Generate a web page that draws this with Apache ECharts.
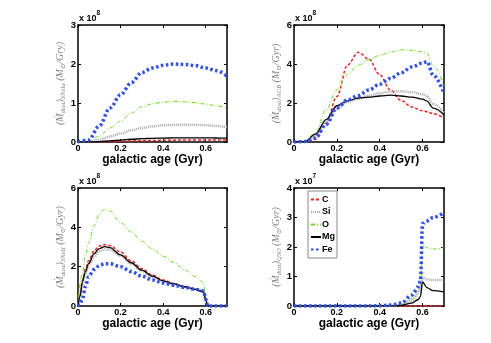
<!DOCTYPE html>
<html>
<head>
<meta charset="utf-8">
<script src="https://cdn.jsdelivr.net/npm/echarts@6/dist/echarts.min.js"></script>
<style>
  html, body { margin: 0; padding: 0; background: #fff; }
  #chart { width: 491px; height: 343px; }
</style>
</head>
<body>
<div id="chart"></div>
<script>
// element names (legend)
const elements = ['C', 'Si', 'O', 'Mg', 'Fe'];

// panel 1: SNeIa (x 1e8)
const xs1 = [0, 0.05, 0.1, 0.15, 0.2, 0.25, 0.3, 0.35, 0.4, 0.45, 0.5, 0.55, 0.6, 0.65, 0.7];
const c1  = [0, 0, 0.005, 0.012, 0.02, 0.028, 0.035, 0.04, 0.045, 0.048, 0.05, 0.05, 0.05, 0.05, 0.05];
const si1 = [0, 0, 0.06, 0.14, 0.22, 0.3, 0.36, 0.4, 0.43, 0.44, 0.44, 0.44, 0.43, 0.41, 0.38];
const o1  = [0, 0.01, 0.15, 0.36, 0.53, 0.74, 0.9, 0.98, 1.02, 1.04, 1.03, 1.01, 0.97, 0.93, 0.87];
const mg1 = [0, 0, 0.01, 0.03, 0.05, 0.07, 0.085, 0.095, 0.1, 0.105, 0.105, 0.105, 0.105, 0.102, 0.1];
const fe1 = [0, 0.05, 0.41, 0.87, 1.21, 1.52, 1.78, 1.9, 1.97, 2.0, 1.99, 1.96, 1.9, 1.83, 1.69];

// panel 2: AGB (x 1e8)
const xs2 = [0, 0.05, 0.1, 0.15, 0.2, 0.25, 0.3, 0.35, 0.4, 0.45, 0.5, 0.55, 0.6, 0.62, 0.65, 0.7];
const c2  = [0, 0, 0.14, 0.98, 2.33, 3.95, 4.6, 4.25, 3.45, 2.67, 2.13, 1.79, 1.6, 1.55, 1.45, 1.23];
const si2 = [0, 0.02, 0.3, 1.0, 1.75, 2.05, 2.22, 2.38, 2.5, 2.58, 2.6, 2.55, 2.45, 2.35, 1.95, 1.5];
const o2  = [0, 0.02, 0.47, 1.65, 2.67, 3.48, 3.94, 4.22, 4.44, 4.61, 4.73, 4.7, 4.62, 4.55, 3.9, 2.87];
const mg2 = [0, 0.02, 0.4, 1.15, 1.86, 2.11, 2.25, 2.3, 2.36, 2.4, 2.36, 2.3, 2.2, 2.1, 1.74, 1.4];
const fe2 = [0, 0.02, 0.2, 0.9, 1.74, 2.16, 2.38, 2.67, 2.97, 3.26, 3.55, 3.85, 4.05, 4.12, 3.43, 2.5];

// panel 3: SNeII (x 1e8)
const xs3 = [0, 0.01, 0.02, 0.035, 0.05, 0.075, 0.1, 0.125, 0.15, 0.2, 0.25, 0.3, 0.35, 0.4, 0.45, 0.5, 0.55, 0.59, 0.6, 0.61, 0.65, 0.7];
const c3  = [0, 0.6, 1.3, 1.9, 2.3, 2.8, 3.05, 3.12, 3.07, 2.75, 2.3, 1.9, 1.57, 1.32, 1.15, 1.0, 0.87, 0.75, 0.3, 0, 0, 0];
const si3 = [0, 0.45, 1.1, 1.65, 2.05, 2.5, 2.78, 2.88, 2.85, 2.55, 2.15, 1.78, 1.48, 1.25, 1.1, 0.97, 0.85, 0.73, 0.3, 0, 0, 0];
const o3  = [0, 1.16, 1.67, 2.6, 3.2, 4.07, 4.67, 4.92, 4.84, 4.24, 3.76, 3.3, 2.9, 2.53, 2.22, 1.85, 1.5, 1.18, 0.4, 0, 0, 0];
const mg3 = [0, 0.5, 1.2, 1.75, 2.15, 2.65, 2.92, 3.02, 2.97, 2.6, 2.2, 1.82, 1.52, 1.28, 1.12, 0.98, 0.85, 0.72, 0.3, 0, 0, 0];
const fe3 = [0, 0.05, 0.3, 1.0, 1.5, 1.85, 2.05, 2.15, 2.15, 2.0, 1.75, 1.52, 1.32, 1.17, 1.05, 0.95, 0.85, 0.76, 0.35, 0, 0, 0];

// panel 4: QSO (x 1e7)
const xs4 = [0, 0.1, 0.2, 0.3, 0.4, 0.45, 0.5, 0.55, 0.58, 0.59, 0.6, 0.62, 0.65, 0.7];
const c4  = [0, 0, 0, 0, 0, 0, 0, 0, 0, 0, 0, 0, 0, 0];
const si4 = [0, 0, 0, 0, 0, 0.01, 0.04, 0.18, 0.42, 0.6, 0.95, 0.9, 0.88, 0.88];
const o4  = [0, 0, 0, 0, 0, 0.01, 0.05, 0.25, 0.5, 0.72, 2.1, 1.98, 1.93, 1.98];
const mg4 = [0, 0, 0, 0, 0, 0.005, 0.02, 0.1, 0.22, 0.32, 0.82, 0.62, 0.52, 0.48];
const fe4 = [0, 0, 0, 0, 0.005, 0.03, 0.1, 0.37, 0.65, 0.85, 2.8, 2.88, 3.0, 3.17];

const xTicks = ['0', '0.2', '0.4', '0.6'];

const panels = [
  { xs: xs1, ys: [c1, si1, o1, mg1, fe1], ymax: 3, yint: 1, exp: '8', src: 'SNeIa', unit: 'Gry',
    grid: { left: 78, top: 25, width: 149, height: 117 } },
  { xs: xs2, ys: [c2, si2, o2, mg2, fe2], ymax: 6, yint: 2, exp: '8', src: 'AGB', unit: 'Gyr',
    grid: { left: 294, top: 25, width: 150, height: 117 } },
  { xs: xs3, ys: [c3, si3, o3, mg3, fe3], ymax: 6, yint: 2, exp: '8', src: 'SNeII', unit: 'Gyr',
    grid: { left: 78, top: 188, width: 149, height: 118 } },
  { xs: xs4, ys: [c4, si4, o4, mg4, fe4], ymax: 4, yint: 1, exp: '7', src: 'QSO', unit: 'Gyr',
    grid: { left: 294, top: 188, width: 150, height: 118 } }
];

const lineStyles = {
  C:  { color: '#ff1a1a', width: 1.5, type: [3, 2] },
  Si: { color: '#a8a8a8', width: 2.5, type: [1, 1] },
  O:  { color: '#5ee600', width: 1, type: [4, 2, 1, 2] },
  Mg: { color: '#000000', width: 1.3, type: 'solid' },
  Fe: { color: '#2b4dff', width: 3.5, type: [2.5, 2.5] }
};

const FONT = 'Liberation Sans, Arial, Helvetica, sans-serif';
const frame = { show: true, onZero: false, lineStyle: { color: '#000', width: 1.5 } };
const tick = { show: true, inside: true, length: 3, lineStyle: { color: '#000', width: 1 } };

const yName = (src, unit) =>
  '{m|(Ṁ}{s|dust}{m|)}{s|' + src + '}{m| (M}{s|⊙}{m|/' + unit + ')}';

const xLabel = v => {
  const k = v / 0.2;
  return Math.abs(k - Math.round(k)) < 1e-6 ? (xTicks[Math.round(k)] || '') : '';
};

const grids = [], xAxes = [], yAxes = [], series = [], graphics = [];

panels.forEach((p, i) => {
  grids.push(p.grid);
  const xBase = {
    type: 'value', gridIndex: i, min: 0, max: 0.7, interval: 0.2,
    axisLine: frame, axisTick: tick, splitLine: { show: false }
  };
  xAxes.push(Object.assign({}, xBase, {
    position: 'bottom',
    axisLabel: {
      show: true, margin: 2, color: '#000', fontFamily: FONT, fontWeight: 'bold', fontSize: 9,
      showMaxLabel: false, formatter: xLabel
    },
    name: 'galactic age (Gyr)', nameLocation: 'middle', nameGap: 12,
    nameTextStyle: { color: '#000', fontFamily: FONT, fontWeight: 'bold', fontSize: 12 }
  }));
  xAxes.push(Object.assign({}, xBase, { position: 'top', axisLabel: { show: false } }));

  const yBase = {
    type: 'value', gridIndex: i, min: 0, max: p.ymax, interval: p.yint,
    axisLine: frame, axisTick: tick, splitLine: { show: false }
  };
  yAxes.push(Object.assign({}, yBase, {
    position: 'left',
    axisLabel: { show: true, margin: 2, color: '#000', fontFamily: FONT, fontWeight: 'bold', fontSize: 9.5 },
    name: yName(p.src, p.unit), nameLocation: 'middle', nameGap: 11, nameRotate: 90,
    nameTextStyle: {
      rich: {
        m: { fontFamily: 'Liberation Serif, DejaVu Serif, serif', fontStyle: 'italic', fontSize: 10, color: '#808080', lineHeight: 13 },
        s: { fontFamily: 'Liberation Serif, DejaVu Serif, serif', fontStyle: 'italic', fontSize: 6.5, color: '#808080', lineHeight: 9, verticalAlign: 'bottom' }
      }
    }
  }));
  yAxes.push(Object.assign({}, yBase, { position: 'right', axisLabel: { show: false } }));

  elements.forEach((el, k) => {
    series.push({
      name: el, type: 'line', xAxisIndex: i * 2, yAxisIndex: i * 2,
      data: p.xs.map((x, j) => [x, p.ys[k][j]]),
      showSymbol: false, symbol: 'none', smooth: 0.35, smoothMonotone: 'x',
      lineStyle: lineStyles[el], color: lineStyles[el].color,
      emphasis: { disabled: true }, silent: true, z: 2 + k
    });
  });

  // "x 10^n" multiplier above each panel
  graphics.push({
    type: 'text', left: p.grid.left + 1, top: p.grid.top - 11,
    style: { text: 'x 10', font: 'bold 9px ' + FONT, fill: '#000' }
  });
  graphics.push({
    type: 'text', left: p.grid.left + 18.5, top: p.grid.top - 15,
    style: { text: p.exp, font: 'bold 6.5px ' + FONT, fill: '#000' }
  });
});

const chart = echarts.init(document.getElementById('chart'), null, { renderer: 'canvas' });
chart.setOption({
  animation: false,
  backgroundColor: '#fff',
  grid: grids,
  xAxis: xAxes,
  yAxis: yAxes,
  series: series,
  graphic: graphics,
  legend: {
    data: elements, orient: 'vertical', left: 308, top: 191,
    padding: [4, 2, 4, 2], itemGap: 3.5, itemWidth: 10, itemHeight: 10,
    itemStyle: { opacity: 0 },
    backgroundColor: '#fff', borderColor: '#888', borderWidth: 1,
    textStyle: { color: '#000', fontFamily: FONT, fontWeight: 'bold', fontSize: 9, padding: [0, 0, 0, -4] },
    selectedMode: false
  }
});
</script>
</body>
</html>
